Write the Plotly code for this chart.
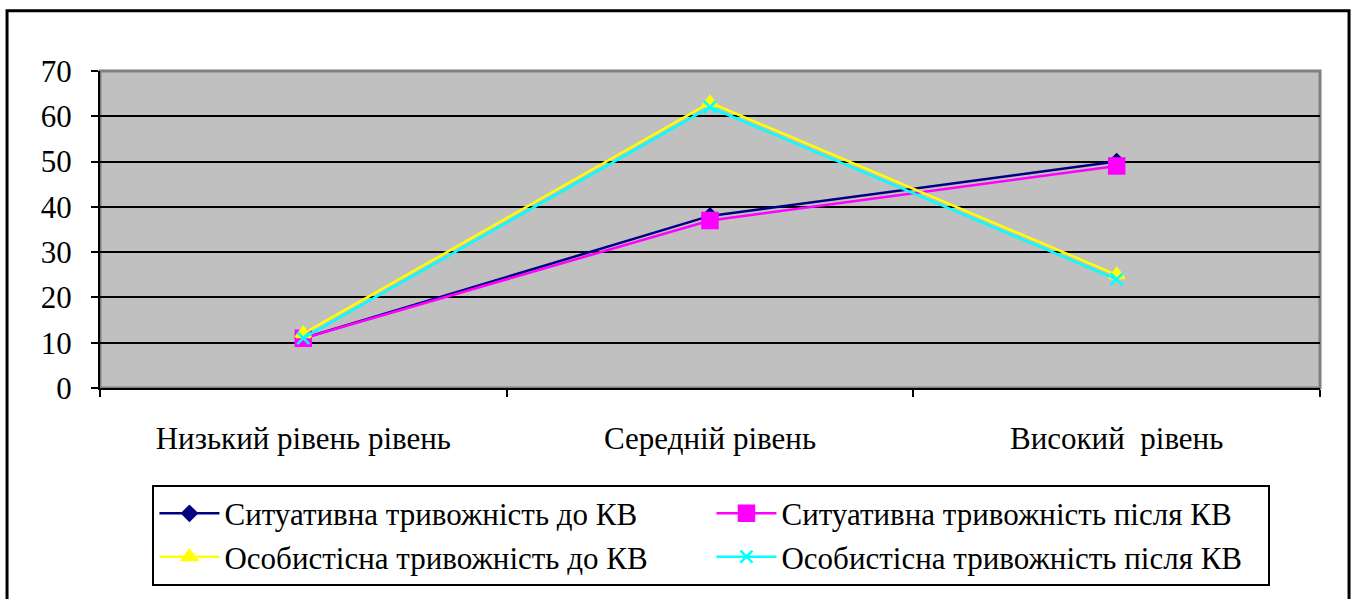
import plotly.graph_objects as go

categories = ["Низький рівень рівень", "Середній рівень", "Високий  рівень"]
sit_before = [11, 38, 50]
sit_after = [11, 37, 49]
pers_before = [12, 63, 25]
pers_after = [11, 62, 24]
y_ticks = [0, 10, 20, 30, 40, 50, 60, 70]

FONT = "'Times New Roman', Tinos, 'Liberation Serif', 'DejaVu Serif', serif"

series = [
    ("Ситуативна тривожність до КВ", sit_before, "#000080", "diamond", 11),
    ("Ситуативна тривожність після КВ", sit_after, "#ff00ff", "square", 15),
    ("Особистісна тривожність до КВ", pers_before, "#ffff00", "triangle-up", 13),
    ("Особистісна тривожність після КВ", pers_after, "#00ffff", "x-thin", 12),
]

fig = go.Figure()
for name, vals, color, sym, size in series:
    fig.add_trace(go.Scatter(
        x=categories, y=vals, name=name, mode="lines+markers",
        line=dict(color=color, width=2.5),
        marker=dict(symbol=sym, size=size, color=color,
                    line=dict(color=color, width=2.5)),
    ))

fig.update_layout(
    width=1357, height=599,
    margin=dict(l=100, r=37, t=71, b=211),
    paper_bgcolor="white",
    plot_bgcolor="#c0c0c0",
    font=dict(family=FONT, size=31, color="black"),
    showlegend=True,
    legend=dict(
        orientation="h", x=0.043, y=-0.305, xanchor="left", yanchor="top",
        bordercolor="black", borderwidth=2, bgcolor="white",
        entrywidth=482, font=dict(family=FONT, size=31),
        itemwidth=60, tracegroupgap=0,
    ),
    shapes=[
        dict(type="rect", xref="paper", yref="paper", x0=-0.0762, x1=1.0238,
             y0=-0.7, y1=1.19, line=dict(color="black", width=3),
             fillcolor="rgba(0,0,0,0)", layer="below"),
        dict(type="rect", xref="paper", yref="paper", x0=0, x1=1, y0=0, y1=1,
             line=dict(color="#808080", width=3), layer="below"),
    ],
)

fig.update_xaxes(
    type="category", showgrid=False, showline=True, linecolor="black",
    linewidth=2, ticks="outside", tickson="boundaries", ticklen=7,
    tickwidth=2, tickcolor="black", ticklabelstandoff=22,
    tickfont=dict(family=FONT, size=31), range=[-0.5, 2.5],
)
fig.update_yaxes(
    range=[0, 70], tickvals=y_ticks, showgrid=True, gridcolor="black",
    gridwidth=2, showline=True, linecolor="black", linewidth=2,
    ticks="outside", ticklen=7, tickwidth=2, tickcolor="black",
    ticklabelstandoff=13, tickfont=dict(family=FONT, size=31), zeroline=False,
)

fig.write_html("out.html")
